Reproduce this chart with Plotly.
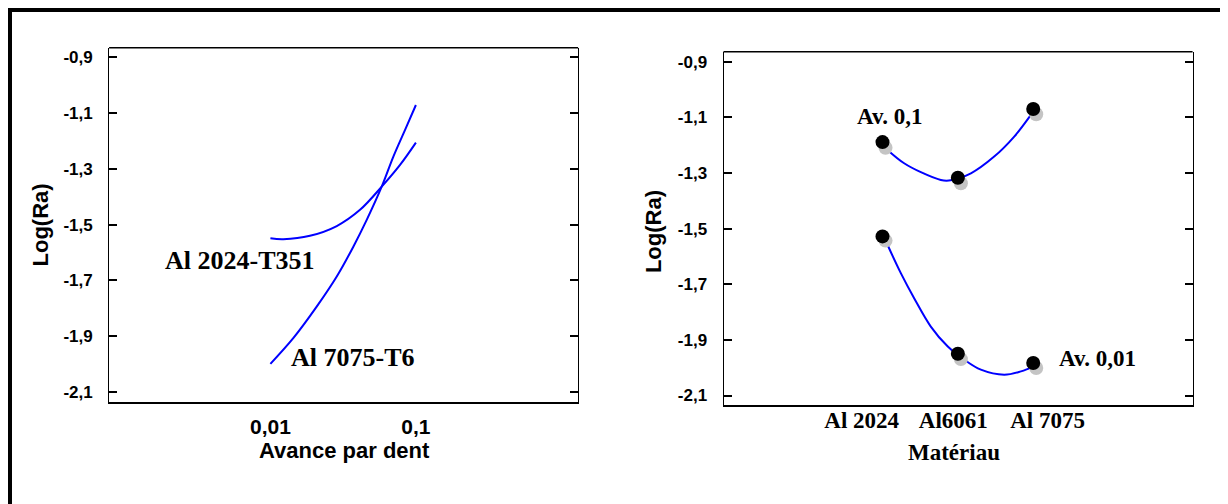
import plotly.graph_objects as go

# ---------------- data ----------------
# Left panel: Log(Ra) vs feed per tooth (log x)
feed_7075 = [0.01, 0.01436, 0.0208, 0.02858, 0.03715, 0.04592, 0.0582, 0.070, 0.0841, 0.1]
lra_7075 = [-1.999, -1.907, -1.794, -1.686, -1.579, -1.483, -1.364, -1.256, -1.161, -1.071]
feed_2024 = [0.01, 0.01227, 0.0187, 0.02858, 0.0413, 0.0582, 0.0778, 0.1]
lra_2024 = [-1.549, -1.552, -1.540, -1.505, -1.447, -1.364, -1.286, -1.206]

# Right panel: Log(Ra) vs material
materials = ["Al 2024", "Al6061", "Al 7075"]
mat_pos = [1, 2, 3]
av01_black = [-1.189, -1.317, -1.070]
av01_gray = [-1.209, -1.337, -1.089]
av001_black = [-1.528, -1.950, -1.983]
av001_gray = [-1.543, -1.969, -2.001]
gray_pos = [1.04, 2.04, 3.04]

av01_curve_x = [1.066, 1.287, 1.509, 1.774, 1.88, 2.173, 2.482, 2.748, 2.969]
av01_curve_y = [-1.217, -1.265, -1.297, -1.325, -1.327, -1.301, -1.241, -1.169, -1.091]
av001_curve_x = [1.066, 1.243, 1.420, 1.641, 1.863, 2.084, 2.305, 2.615, 2.837, 3.013]
av001_curve_y = [-1.558, -1.660, -1.750, -1.852, -1.923, -1.971, -2.007, -2.025, -2.013, -1.995]

ytick_vals = [-0.9, -1.1, -1.3, -1.5, -1.7, -1.9, -2.1]
ytick_text = ["-0,9", "-1,1", "-1,3", "-1,5", "-1,7", "-1,9", "-2,1"]
xtick_vals_left = [0.01, 0.1]
xtick_text_left = ["0,01", "0,1"]
mat_label_pos = [0.724, 1.94, 3.19]

# ---------------- figure ----------------
# the page adds an 8 px body margin, so the figure is 8 px smaller than the window
OFF = 8
W, H = 1220, 496
BLUE = "#0000ff"
SANS = "Liberation Sans"
SERIF = "Liberation Serif"


def fx(px):
    return (px - OFF) / W


def fy(py):
    return 1 - (py - OFF) / H


def bold(lst):
    return ["<b>%s</b>" % t for t in lst]


fig = go.Figure()

fig.add_trace(go.Scatter(x=feed_7075, y=lra_7075, mode="lines", line=dict(color=BLUE, width=2),
                         line_shape="spline", xaxis="x", yaxis="y", showlegend=False, hoverinfo="skip"))
fig.add_trace(go.Scatter(x=feed_2024, y=lra_2024, mode="lines", line=dict(color=BLUE, width=2),
                         line_shape="spline", xaxis="x", yaxis="y", showlegend=False, hoverinfo="skip"))

fig.add_trace(go.Scatter(x=av01_curve_x, y=av01_curve_y, mode="lines", line=dict(color=BLUE, width=2),
                         line_shape="spline", xaxis="x2", yaxis="y2", showlegend=False))
fig.add_trace(go.Scatter(x=av001_curve_x, y=av001_curve_y, mode="lines", line=dict(color=BLUE, width=2),
                         line_shape="spline", xaxis="x2", yaxis="y2", showlegend=False))
for yv in (av01_gray, av001_gray):
    fig.add_trace(go.Scatter(x=gray_pos, y=yv, mode="markers",
                             marker=dict(color="#c4c4c4", size=14, line=dict(width=0)),
                             xaxis="x2", yaxis="y2", showlegend=False))
for yv in (av01_black, av001_black):
    fig.add_trace(go.Scatter(x=mat_pos, y=yv, mode="markers",
                             marker=dict(color="black", size=14, line=dict(width=0)),
                             xaxis="x2", yaxis="y2", showlegend=False))

yaxis_common = dict(
    tickvals=ytick_vals, ticktext=bold(ytick_text), ticks="inside", ticklen=8, tickwidth=1.5,
    tickcolor="black", showline=True, linecolor="black", linewidth=1, mirror="ticks",
    showgrid=False, zeroline=False, ticklabelstandoff=12,
    tickfont=dict(family=SANS, size=17, color="black"),
)

fig.update_layout(
    width=W, height=H,
    margin=dict(l=0, r=0, t=0, b=0),
    paper_bgcolor="white", plot_bgcolor="white",
    xaxis=dict(domain=[fx(109.1), fx(578.1)], type="log", range=[-3.1086, 0.1148],
               tickvals=xtick_vals_left, ticktext=bold(xtick_text_left), ticks="",
               showline=True, linecolor="black", linewidth=2, mirror=False,
               showgrid=False, zeroline=False, ticklabelstandoff=5,
               tickfont=dict(family=SANS, size=21, color="black")),
    yaxis=dict(domain=[fy(402), fy(47.7)], range=[-2.1359, -0.8656], anchor="x",
               **yaxis_common),
    xaxis2=dict(domain=[fx(723.5), fx(1192.6)], range=[-1.110, 5.115],
                tickvals=mat_label_pos, ticktext=bold(materials), ticks="",
                showline=True, linecolor="black", linewidth=2, mirror=False,
                showgrid=False, zeroline=False, ticklabelstandoff=-7, anchor="y2",
                tickfont=dict(family=SERIF, size=23, color="black")),
    yaxis2=dict(domain=[fy(405), fy(51.7)], range=[-2.134, -0.864], anchor="x2",
                **yaxis_common),
)

shapes = [
    # outer frame: left/top edges hug the figure edge, bottom edge lies outside the picture
    dict(type="rect", xref="paper", yref="paper", x0=2 / W, x1=fx(1225.3), y0=-0.1, y1=1 - 2 / H,
         line=dict(color="black", width=4), fillcolor="rgba(0,0,0,0)", layer="above"),
    dict(type="line", xref="x domain", yref="y domain", x0=0, x1=1, y0=1, y1=1,
         line=dict(color="black", width=1.5)),
    dict(type="line", xref="x2 domain", yref="y2 domain", x0=0, x1=1, y0=1, y1=1,
         line=dict(color="black", width=1.5)),
]
fig.update_layout(shapes=shapes)


def ann(text, x, y, family, size, angle=0):
    fig.add_annotation(text="<b>%s</b>" % text, xref="paper", yref="paper", x=fx(x), y=fy(y),
                       xanchor="center", yanchor="middle", showarrow=False, textangle=angle,
                       font=dict(family=family, size=size, color="black"))


ann("Log(Ra)", 39.5, 225, SANS, 22, -90)
ann("Log(Ra)", 653.4, 231.7, SANS, 22, -90)
ann("Avance par dent", 344, 450, SANS, 22)
ann("Matériau", 953.8, 452, SERIF, 23)
ann("Al 2024-T351", 239.6, 260, SERIF, 26)
ann("Al 7075-T6", 353, 357, SERIF, 26)
ann("Av. 0,1", 889, 117, SERIF, 23)
ann("Av. 0,01", 1097, 358, SERIF, 23)

fig.write_html("out.html")
